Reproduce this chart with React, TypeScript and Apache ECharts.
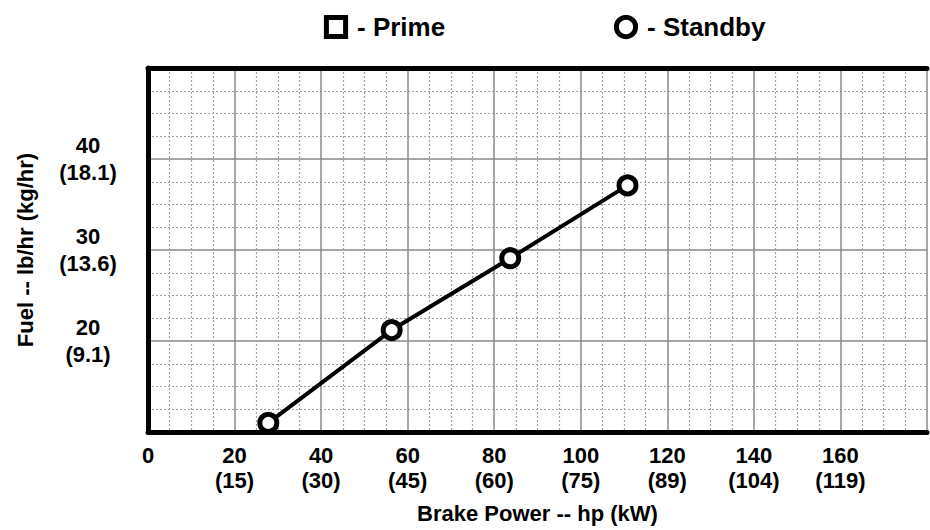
import React, { useEffect, useRef } from "react";
import * as echarts from "echarts";

const standbyHp = [27.8, 56.3, 83.7, 110.8];
const standbyFuel = [11.0, 21.2, 29.1, 37.1];
const primeHp: number[] = [];
const primeFuel: number[] = [];

const xTicksHp = [20, 40, 60, 80, 100, 120, 140, 160];
const xTicksKw = ["15", "30", "45", "60", "75", "89", "104", "119"];
const yTicksLb = [20, 30, 40];
const yTicksKg = ["9.1", "13.6", "18.1"];

const FONT = "'Liberation Sans', Arial, Helvetica, sans-serif";

export default function App() {
  const ref = useRef<HTMLDivElement>(null);
  useEffect(() => {
    if (!ref.current) return;
    const chart = echarts.init(ref.current, undefined, { renderer: "svg" });
    const markerStyle = { color: "#fff", borderColor: "#000", borderWidth: 5 };
    const legendText = { fontFamily: FONT, fontWeight: "bold", fontSize: 26, color: "#000", padding: [0, 0, 0, 4] };
    chart.setOption({
      animation: false,
      backgroundColor: "#fff",
      textStyle: { fontFamily: FONT, fontWeight: "bold", color: "#000" },
      legend: [
        {
          data: ["Prime"],
          left: 318,
          top: 9,
          itemWidth: 24,
          itemHeight: 24,
          formatter: "- {name}",
          itemStyle: { color: "#fff", borderColor: "#000", borderWidth: 5 },
          textStyle: legendText,
        },
        {
          data: ["Standby"],
          left: 608,
          top: 9,
          itemWidth: 24,
          itemHeight: 24,
          formatter: "- {name}",
          itemStyle: { color: "#fff", borderColor: "#000", borderWidth: 5 },
          textStyle: legendText,
        },
      ],
      grid: { left: 148, top: 68, right: 0, bottom: 98, containLabel: false },
      xAxis: [
        {
          type: "value",
          min: 0,
          max: 180,
          interval: 20,
          position: "bottom",
          name: "Brake Power -- hp (kW)",
          nameLocation: "middle",
          nameGap: 70,
          nameTextStyle: { fontFamily: FONT, fontWeight: "bold", fontSize: 22, color: "#000" },
          axisLine: { show: true, onZero: false, lineStyle: { color: "#000", width: 5 } },
          axisTick: { show: false },
          axisLabel: {
            margin: 11,
            fontFamily: FONT,
            fontWeight: "bold",
            fontSize: 22,
            lineHeight: 25,
            color: "#000",
            formatter: (v: number) => {
              if (v === 0) return "0";
              const i = xTicksHp.indexOf(v);
              return i >= 0 ? `${v}\n(${xTicksKw[i]})` : "";
            },
          },
          splitLine: { show: true, lineStyle: { color: "#8a8a8a", width: 1.5 } },
          minorTick: { show: false, splitNumber: 4 },
          minorSplitLine: { show: true, lineStyle: { color: "#a0a0a0", width: 1.2, type: [2, 2] } },
        },
        {
          type: "value",
          min: 0,
          max: 180,
          position: "top",
          axisLine: { show: true, onZero: false, lineStyle: { color: "#000", width: 5 } },
          axisTick: { show: false },
          axisLabel: { show: false },
          splitLine: { show: false },
        },
      ],
      yAxis: {
        type: "value",
        min: 10,
        max: 50,
        interval: 10,
        name: "Fuel -- lb/hr (kg/hr)",
        nameLocation: "middle",
        nameGap: 112,
        nameTextStyle: { fontFamily: FONT, fontWeight: "bold", fontSize: 22, color: "#000" },
        axisLine: { show: true, onZero: false, lineStyle: { color: "#000", width: 5 } },
        axisTick: { show: false },
        axisLabel: {
          margin: 60,
          align: "center",
          fontFamily: FONT,
          fontWeight: "bold",
          fontSize: 22,
          lineHeight: 27,
          color: "#000",
          formatter: (v: number) => {
            const i = yTicksLb.indexOf(v);
            return i >= 0 ? `${v}\n(${yTicksKg[i]})` : "";
          },
        },
        splitLine: { show: true, lineStyle: { color: "#8a8a8a", width: 1.5 } },
        minorTick: { show: false, splitNumber: 4 },
        minorSplitLine: { show: true, lineStyle: { color: "#a0a0a0", width: 1.2, type: [2, 2] } },
      },
      series: [
        {
          name: "Prime",
          type: "line",
          symbol: "rect",
          symbolSize: 17,
          itemStyle: markerStyle,
          lineStyle: { color: "#000", width: 4 },
          data: primeHp.map((h, i) => [h, primeFuel[i]]),
        },
        {
          name: "Standby",
          type: "line",
          symbol: "circle",
          symbolSize: 17,
          itemStyle: markerStyle,
          lineStyle: { color: "#000", width: 4 },
          data: standbyHp.map((h, i) => [h, standbyFuel[i]]),
          z: 5,
        },
      ],
    });
    return () => chart.dispose();
  }, []);
  return (
    <div
      ref={ref}
      style={{ position: "fixed", left: 0, top: 0, width: 930, height: 530 }}
    />
  );
}
